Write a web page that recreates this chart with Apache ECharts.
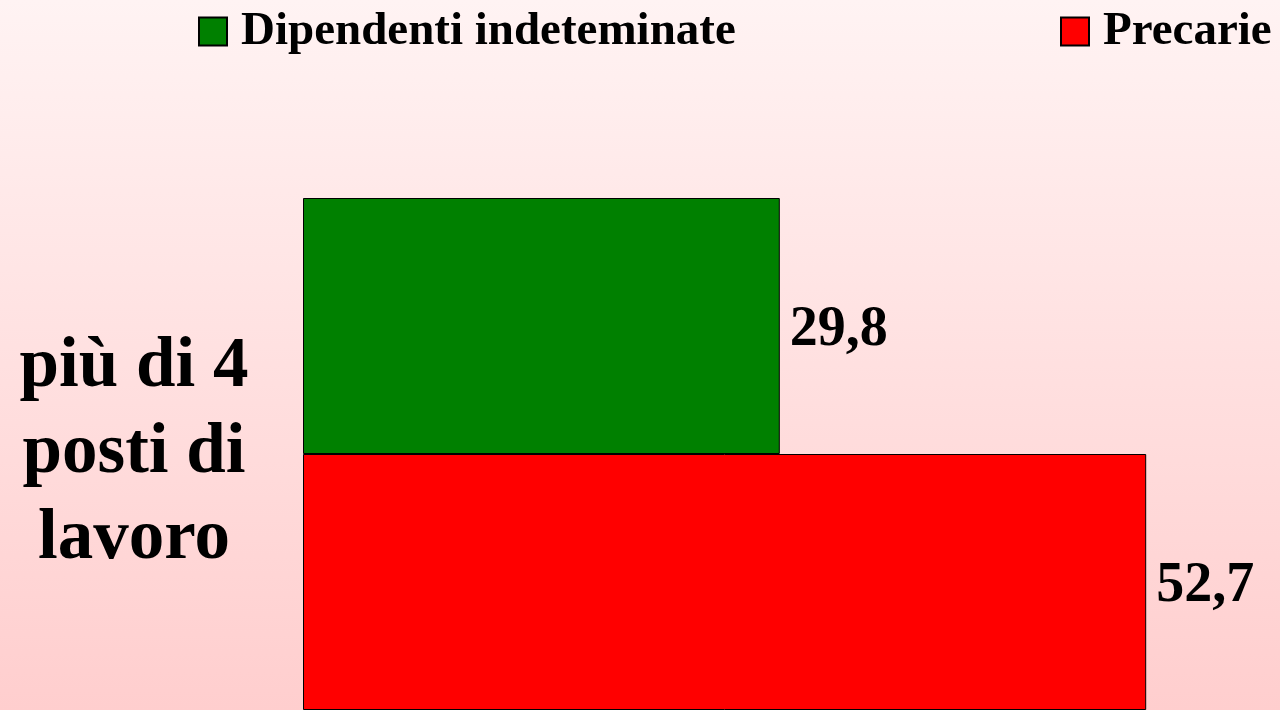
<!DOCTYPE html>
<html lang="it">
<head>
	<meta charset="UTF-8">
	<title>più di 4 posti di lavoro</title>
	<style type="text/css">
	html, body {
		margin: 0;
		padding: 0;
	}
	.chart {
		width: 1280px;
		height: 710px;
	}
</style>
</head>
<body>
	<div class="chart"></div>

	<script type="text/javascript" src="https://cdn.jsdelivr.net/npm/echarts@6/dist/echarts.min.js"></script>
	<script type="text/javascript">

		// dati
		var categories = ['più di 4\nposti di\nlavoro'];
		var seriesNames = ['Dipendenti indeteminate', 'Precarie'];
		var indeterminate = [29.8];
		var precarie = [52.7];

		var chart = echarts.init(document.getElementsByClassName('chart')[0]);
		var font = 'Liberation Serif';

		// etichette con la virgola decimale
		function commaLabel (p) {
			return String(p.value).replace('.', ',');
		}

		var labelStyle = {
			show: true,
			position: 'right',
			distance: 10,
			offset: [0, 5],
			formatter: commaLabel,
			color: '#000',
			fontFamily: font,
			fontWeight: 'bold',
			fontSize: 56
		};

		var legendText = {
			color: '#000',
			fontFamily: font,
			fontWeight: 'bold',
			fontSize: 47,
			padding: [4, 0, 0, 9]
		};

		var option = {
			backgroundColor: new echarts.graphic.LinearGradient(0, 0, 0, 1, [
				{offset: 0, color: '#fff3f3'},
				{offset: 1, color: '#ffcece'}
			]),
			animation: false,
			legend: [{
				data: [seriesNames[0]],
				left: 193,
				top: 3,
				icon: 'rect',
				itemWidth: 28,
				itemHeight: 28,
				textStyle: legendText
			}, {
				data: [seriesNames[1]],
				left: 1055,
				top: 3,
				icon: 'rect',
				itemWidth: 28,
				itemHeight: 28,
				textStyle: legendText
			}],
			grid: {
				left: 303,
				top: 198,
				width: 960,
				height: 518
			},
			xAxis: {
				type: 'value',
				min: 0,
				max: 60,
				show: false
			},
			yAxis: {
				type: 'category',
				data: categories,
				inverse: true,
				axisLine: {show: false},
				axisTick: {show: false},
				splitLine: {show: false},
				axisLabel: {
					margin: 169,
					align: 'center',
					color: '#000',
					fontFamily: font,
					fontWeight: 'bold',
					fontSize: 71,
					lineHeight: 86,
					padding: [10, 0, 0, 0]
				}
			},
			series: [{
				name: seriesNames[0],
				type: 'bar',
				data: indeterminate,
				barGap: 0,
				barCategoryGap: 0,
				itemStyle: {color: '#008000', borderColor: '#000', borderWidth: 1},
				label: labelStyle
			}, {
				name: seriesNames[1],
				type: 'bar',
				data: precarie,
				barGap: 0,
				barCategoryGap: 0,
				itemStyle: {color: '#ff0000', borderColor: '#000', borderWidth: 1},
				label: labelStyle
			}]
		};

		chart.setOption(option);

	</script>
</body>
</html>
